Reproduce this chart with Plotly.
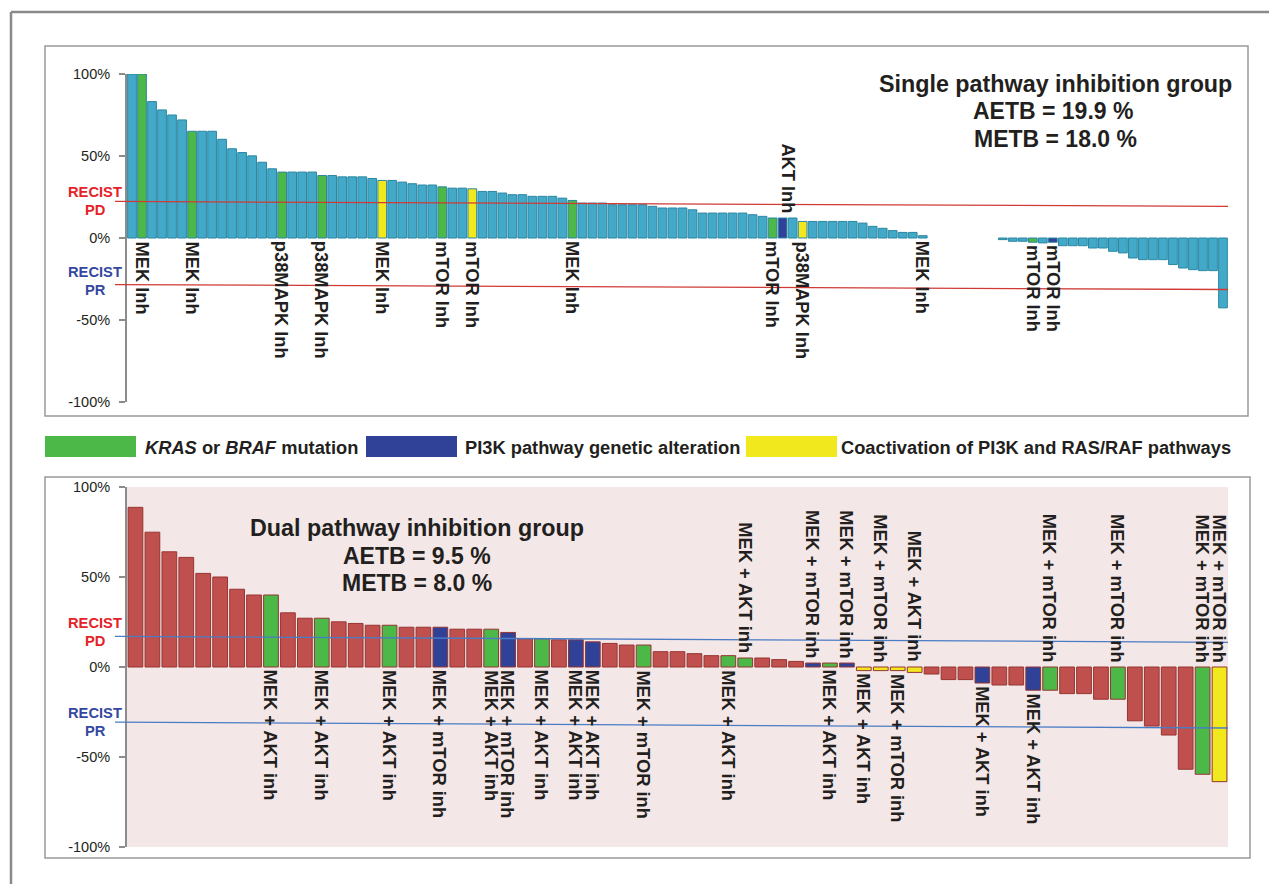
import plotly.graph_objects as go

W, H = 1269, 884
FONT = "Liberation Sans, Arial, Helvetica, sans-serif"

# ---------------- data: single pathway inhibition group ----------------
single_values = [
    100, 100, 83.2, 78.1, 75.0, 72.0, 65.1, 65.1, 65.1, 60.2, 54.4, 52.1, 50.1, 46.2, 42.2,
    40.2, 40.2, 40.2, 40.2, 38.1, 38.1, 37.3, 37.3, 37.3, 36.3, 35.1, 35.1, 34.1, 33.1, 32.3,
    32.3, 31.2, 30.4, 30.4, 30.0, 28.4, 28.4, 27.4, 26.4, 26.4, 25.4, 25.4, 25.4, 24.3, 22.9,
    21.3, 21.3, 21.3, 20.3, 20.3, 20.3, 20.3, 19.3, 18.3, 18.3, 18.3, 17.2, 15.2, 15.2, 15.2,
    15.2, 15.2, 14.2, 13.2, 12.2, 12.2, 12.2, 10.1, 10.1, 10.1, 10.1, 10.1, 10.1, 9.1, 7.1,
    5.9, 4.5, 3.4, 3.4, 1.4,
    None, None, None, None, None, None, None,
    -1.0, -2.0, -2.0, -2.6, -3.0, -2.6, -4.7, -4.7, -4.7, -6.1, -6.1, -8.1, -9.1, -12.2,
    -13.2, -13.2, -13.2, -16.2, -18.3, -19.3, -19.9, -19.9, -42.6,
]
single_kras_braf = [1, 6, 15, 19, 31, 44, 64, 90]
single_pi3k = [65, 92]
single_coact = [25, 34, 67]
single_labels_below = [
    (1, "MEK Inh"), (6, "MEK Inh"), (15, "p38MAPK Inh"), (19, "p38MAPK Inh"),
    (25, "MEK Inh"), (31, "mTOR Inh"), (34, "mTOR Inh"), (44, "MEK Inh"),
    (64, "mTOR Inh"), (67, "p38MAPK Inh"), (79, "MEK Inh"), (90, "mTOR Inh"),
    (92, "mTOR Inh"),
]
single_labels_above = [(65, "AKT Inh")]

# ---------------- data: dual pathway inhibition group ----------------
dual_values = [
    88.7, 74.9, 64.0, 60.9, 52.0, 50.0, 43.2, 40.0, 40.0, 30.1, 27.1, 27.1, 25.1, 24.2, 23.2,
    23.2, 22.1, 22.1, 22.1, 21.0, 21.0, 21.0, 19.2, 15.7, 15.7, 15.1, 15.1, 14.0, 13.1, 12.2,
    12.2, 8.5, 8.5, 7.4, 6.3, 6.3, 5.0, 5.0, 4.1, 3.1, 2.2, 2.2, 2.2, -2.0, -2.0,
    -2.0, -3.0, -3.9, -7.0, -7.0, -8.9, -10.0, -10.0, -12.9, -12.9, -14.8, -14.8, -17.9, -17.9,
    -29.9, -32.8, -37.8, -56.8, -59.6, -63.7,
]
dual_kras_braf = [8, 11, 15, 21, 24, 30, 35, 36, 41, 54, 58, 63]
dual_pi3k = [18, 22, 26, 27, 40, 42, 50, 53]
dual_coact = [43, 44, 45, 46, 64]
dual_labels_below = [
    (8, "MEK + AKT inh"), (11, "MEK + AKT inh"), (15, "MEK + AKT inh"), (18, "MEK + mTOR inh"),
    (21, "MEK + AKT inh"), (22, "MEK + mTOR inh"), (24, "MEK + AKT inh"), (26, "MEK + AKT inh"),
    (27, "MEK + AKT inh"), (30, "MEK + mTOR inh"), (35, "MEK + AKT inh"), (41, "MEK + AKT inh"),
    (43, "MEK + AKT inh"), (45, "MEK + mTOR inh"), (50, "MEK + AKT inh"), (53, "MEK + AKT inh"),
]
dual_labels_above = [
    (36, "MEK + AKT inh"), (40, "MEK + mTOR inh"), (42, "MEK + mTOR inh"), (44, "MEK + mTOR inh"),
    (46, "MEK + AKT inh"), (54, "MEK + mTOR inh"), (58, "MEK + mTOR inh"), (63, "MEK + mTOR inh"),
    (64, "MEK + mTOR inh"),
]

y_ticks = [100, 50, 0, -50, -100]
y_ticktext = ["100%", "50%", "0%", "-50%", "-100%"]

# RECIST reference lines (left end, right end) in %
single_pd = (22.3, 19.3)
single_pr = (-28.4, -31.4)
dual_pd = (17.0, 13.7)
dual_pr = (-30.6, -33.9)

C_TEAL = "#42aac8"
C_RED = "#c0504d"
C_GREEN = "#4cb848"
C_BLUE = "#2f4298"
C_YELLOW = "#f2e81e"


def colors(n, base, kras, pi3k, coact):
    out = [base] * n
    for i in kras:
        out[i] = C_GREEN
    for i in pi3k:
        out[i] = C_BLUE
    for i in coact:
        out[i] = C_YELLOW
    return out


def px(x):
    return x / W


def py(y):
    return 1 - y / H


fig = go.Figure()
fig.add_trace(go.Bar(
    x=list(range(len(single_values))), y=single_values,
    marker=dict(color=colors(len(single_values), C_TEAL, single_kras_braf, single_pi3k, single_coact),
                line=dict(color="#2b86a2", width=1)),
    width=0.87, xaxis="x", yaxis="y", hoverinfo="skip", showlegend=False,
))
fig.add_trace(go.Bar(
    x=list(range(len(dual_values))), y=dual_values,
    marker=dict(color=colors(len(dual_values), C_RED, dual_kras_braf, dual_pi3k, dual_coact),
                line=dict(color="#963532", width=1)),
    width=0.87, xaxis="x2", yaxis="y2", hoverinfo="skip", showlegend=False,
))

yax = dict(range=[-100, 100], tickvals=y_ticks, ticktext=y_ticktext, ticks="outside", ticklen=6,
           tickwidth=1.5, tickcolor="#8c8c8c", showline=True, linecolor="#8c8c8c", linewidth=2,
           showgrid=False, zeroline=False, tickfont=dict(family=FONT, size=14.5, color="#231f20"),
           ticklabelstandoff=6, fixedrange=True, automargin=False)
xdom = [px(127), px(1228)]
fig.update_layout(
    width=W, height=H, margin=dict(l=0, r=0, t=0, b=0, pad=0, autoexpand=False),
    paper_bgcolor="white", plot_bgcolor="rgba(0,0,0,0)",
    xaxis=dict(domain=xdom, range=[-0.5, len(single_values) - 0.5], visible=False, anchor="y",
               automargin=False, fixedrange=True),
    yaxis=dict(domain=[py(402), py(74)], anchor="x", **yax),
    xaxis2=dict(domain=xdom, range=[-0.5, len(dual_values) - 0.5], visible=False, anchor="y2",
                automargin=False, fixedrange=True),
    yaxis2=dict(domain=[py(847), py(487)], anchor="x2", **yax),
    font=dict(family=FONT),
    showlegend=False,
)

shapes = []
# outer frame
shapes.append(dict(type="line", xref="paper", yref="paper", x0=px(11), x1=1.0, y0=py(12), y1=py(12),
                   line=dict(color="#8a8a8a", width=2.5)))
shapes.append(dict(type="line", xref="paper", yref="paper", x0=px(11), x1=px(11), y0=py(12), y1=0,
                   line=dict(color="#8a8a8a", width=2.5)))
# panel frames
shapes.append(dict(type="rect", xref="paper", yref="paper", x0=px(45), x1=px(1248), y0=py(416), y1=py(46),
                   line=dict(color="#9a9a9a", width=1.5)))
shapes.append(dict(type="rect", xref="paper", yref="paper", x0=px(45), x1=px(1250), y0=py(858), y1=py(477),
                   line=dict(color="#9a9a9a", width=1.5)))
# pink background of dual panel
shapes.append(dict(type="rect", xref="x2 domain", yref="y2 domain", x0=0, x1=1.0, y0=0, y1=1,
                   fillcolor="#f3e7e7", line=dict(width=0), layer="below"))
# RECIST lines
for yref, (a, b), col in [("y", single_pd, "#cf3a35"), ("y", single_pr, "#cf3a35"),
                          ("y2", dual_pd, "#4a7cc6"), ("y2", dual_pr, "#4a7cc6")]:
    shapes.append(dict(type="line", xref="paper", yref=yref, x0=px(115), x1=px(1228), y0=a, y1=b,
                       line=dict(color=col, width=1.3)))
# legend swatches
for x0, x1, col in [(45, 136, C_GREEN), (366, 457, C_BLUE), (746, 837, C_YELLOW)]:
    shapes.append(dict(type="rect", xref="paper", yref="paper", x0=px(x0), x1=px(x1), y0=py(457), y1=py(436),
                       fillcolor=col, line=dict(width=0)))
fig.update_layout(shapes=shapes)

ann = []
LBL = dict(family=FONT, size=18.3, color="#231f20")


def add_label(xref, yref, i, text, value, above, xshift=0):
    if above:
        ann.append(dict(xref=xref, yref=yref, x=i, y=max(value, 0), text="<b>%s</b>" % text,
                        textangle=90, showarrow=False, xanchor="center", yanchor="bottom",
                        yshift=4, xshift=xshift, font=LBL, borderpad=0))
    else:
        ann.append(dict(xref=xref, yref=yref, x=i, y=min(value, 0), text="<b>%s</b>" % text,
                        textangle=90, showarrow=False, xanchor="center", yanchor="top",
                        yshift=-2, xshift=xshift, font=LBL, borderpad=0))


for i, t in single_labels_below:
    add_label("x", "y", i, t, single_values[i], False)
for i, t in single_labels_above:
    add_label("x", "y", i, t, single_values[i], True, xshift=5)
for i, t in dual_labels_below:
    add_label("x2", "y2", i, t, dual_values[i], False)
for i, t in dual_labels_above:
    add_label("x2", "y2", i, t, dual_values[i], True)

# panel titles
for x, y, t, s in [(1055, 84, "Single pathway inhibition group", 23.3), (1053, 111, "AETB = 19.9 %", 23),
                   (1055, 139, "METB = 18.0 %", 23),
                   (417, 528, "Dual pathway inhibition group", 23.3), (417, 556, "AETB = 9.5 %", 23),
                   (417, 583, "METB = 8.0 %", 23)]:
    ann.append(dict(xref="paper", yref="paper", x=px(x), y=py(y), text="<b>%s</b>" % t, showarrow=False,
                    xanchor="center", yanchor="middle", font=dict(family=FONT, size=s, color="#231f20")))

# RECIST labels
RC = dict(family=FONT, size=14.7)
for y, t, c in [(192, "RECIST", "#e52228"), (210, "PD", "#e52228"), (272, "RECIST", "#3448a0"),
                (290, "PR", "#3448a0"),
                (623, "RECIST", "#e52228"), (641, "PD", "#e52228"), (713, "RECIST", "#3448a0"),
                (731, "PR", "#3448a0")]:
    ann.append(dict(xref="paper", yref="paper", x=px(95), y=py(y), text="<b>%s</b>" % t, showarrow=False,
                    xanchor="center", yanchor="middle", font=dict(RC, color=c)))

# legend texts
for x, t in [(143, "<b><i>KRAS</i> or <i>BRAF</i> mutation</b>"), (463, "<b>PI3K pathway genetic alteration</b>"),
             (839, "<b>Coactivation of PI3K and RAS/RAF pathways</b>")]:
    ann.append(dict(xref="paper", yref="paper", x=px(x), y=py(447), text=t, showarrow=False,
                    xanchor="left", yanchor="middle", font=dict(family=FONT, size=18.3, color="#231f20")))

fig.update_layout(annotations=ann)
fig.write_html("out.html", config={"displayModeBar": False, "staticPlot": False},
               post_script="document.body.style.margin='0';document.body.style.overflow='hidden';")
